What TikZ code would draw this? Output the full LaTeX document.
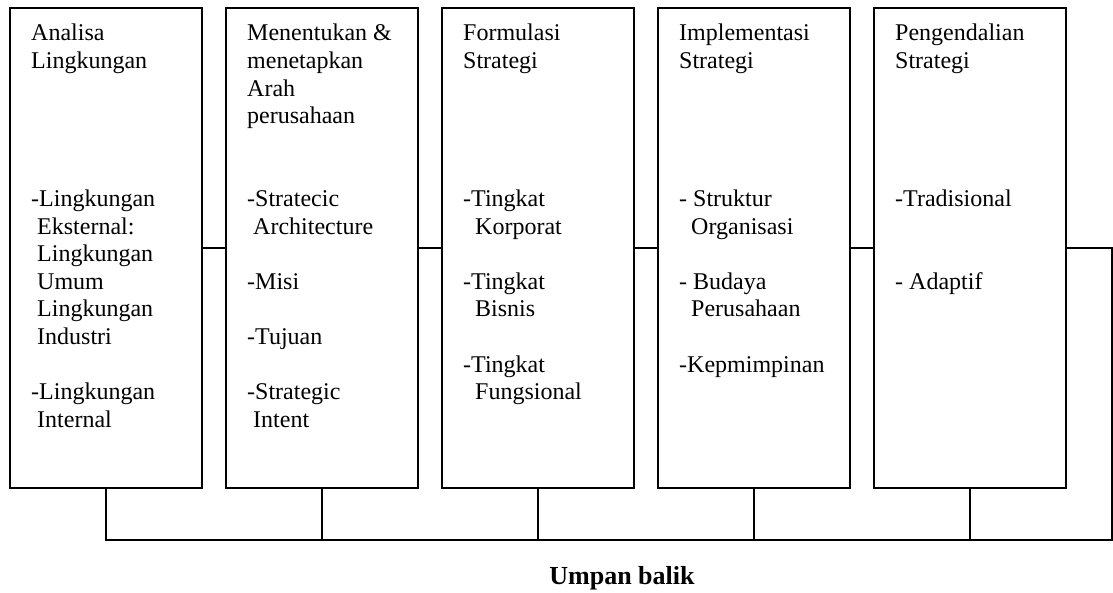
\documentclass[tikz,border=0pt]{standalone}
\usepackage{fontspec}
\setmainfont{Liberation Serif}
\begin{document}
\begin{tikzpicture}[x=1pt,y=-1pt,
  stage/.style={draw,line width=1.4pt,minimum width=192pt,minimum height=480pt,inner sep=0pt},
  txt/.style={anchor=base west,inner sep=0pt,font=\fontsize{24}{27.6}\selectfont},
  conn/.style={line width=1.3pt}]
\useasboundingbox (0,0) rectangle (1113,593);
\node[stage] (b1) at (106,248) {};
\node[stage] (b2) at (322,248) {};
\node[stage] (b3) at (538,248) {};
\node[stage] (b4) at (754,248) {};
\node[stage] (b5) at (970,248) {};
\node[txt] (t1) at (31,41) {\begin{tabular}[t]{@{}l@{}}Analisa\\Lingkungan\\ \\ \\ \\ \\-Lingkungan\\\ Eksternal:\\\ Lingkungan\\\ Umum\\\ Lingkungan\\\ Industri\\ \\-Lingkungan\\\ Internal\end{tabular}};
\node[txt] (t2) at (247,41) {\begin{tabular}[t]{@{}l@{}}Menentukan \&\\menetapkan\\Arah\\perusahaan\\ \\ \\-Stratecic\\\ Architecture\\ \\-Misi\\ \\-Tujuan\\ \\-Strategic\\\ Intent\end{tabular}};
\node[txt] (t3) at (463,41) {\begin{tabular}[t]{@{}l@{}}Formulasi\\Strategi\\ \\ \\ \\ \\-Tingkat\\\ \ Korporat\\ \\-Tingkat\\\ \ Bisnis\\ \\-Tingkat\\\ \ Fungsional\end{tabular}};
\node[txt] (t4) at (679,41) {\begin{tabular}[t]{@{}l@{}}Implementasi\\Strategi\\ \\ \\ \\ \\- Struktur\\\ \ Organisasi\\ \\- Budaya\\\ \ Perusahaan\\ \\-Kepmimpinan\end{tabular}};
\node[txt] (t5) at (895,41) {\begin{tabular}[t]{@{}l@{}}Pengendalian\\Strategi\\ \\ \\ \\ \\-Tradisional\\ \\ \\- Adaptif\end{tabular}};
\coordinate (br) at (1112,540);
\draw[conn] (b1.east) -- (b2.west);
\draw[conn] (b2.east) -- (b3.west);
\draw[conn] (b3.east) -- (b4.west);
\draw[conn] (b4.east) -- (b5.west);
\draw[conn] (b1.south) |- (br) |- (b5.east);
\draw[conn] (b2.south) -- (b2.south |- br);
\draw[conn] (b3.south) -- (b3.south |- br);
\draw[conn] (b4.south) -- (b4.south |- br);
\draw[conn] (b5.south) -- (b5.south |- br);
\node[anchor=base,inner sep=0pt,font=\fontsize{26}{30}\selectfont\bfseries] (fb) at (622,584) {Umpan balik};
\end{tikzpicture}
\end{document}
